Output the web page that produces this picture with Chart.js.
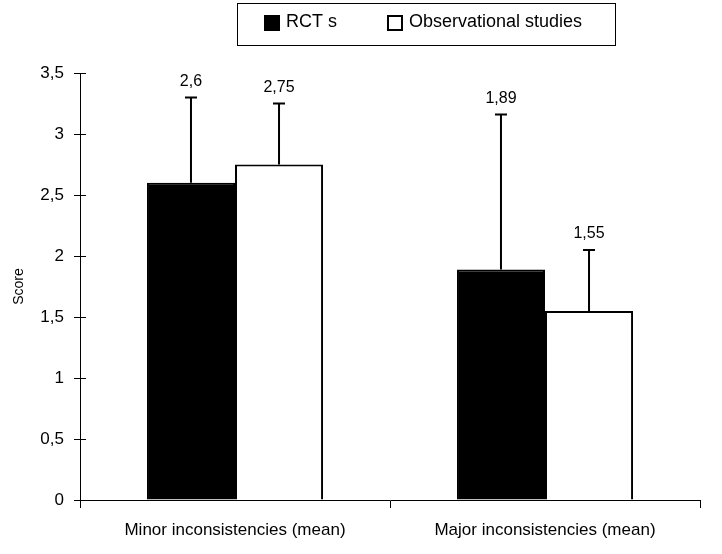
<html>
  <head>
    <script src="https://cdn.jsdelivr.net/npm/chart.js@4.4.1/dist/chart.umd.min.js"></script>
    <style>
      body { margin: 0; background: #fff; }
      #wrap { width: 722px; height: 554px; }
    </style>
  </head>
  <body>
    <div id="wrap">
      <canvas id="myChart"></canvas>
    </div>

    <script>
      const categories = ["Minor inconsistencies (mean)", "Major inconsistencies (mean)"];
      const seriesNames = ["RCT s", "Observational studies"];
      const rctMeans = [2.6, 1.89];
      const obsMeans = [2.75, 1.55];
      // upper error bar length
      const rctErr = [0.7, 1.27];
      const obsErr = [0.5, 0.5];
      const yTicks = [0, 0.5, 1, 1.5, 2, 2.5, 3, 3.5];

      const FONT = "'Liberation Sans Narrow', 'Liberation Sans', Arial, sans-serif";
      const fmt = (v) => String(v).replace(".", ",");

      // error bars + value labels above them
      const errorBars = {
        id: "errorBars",
        afterDatasetsDraw(chart) {
          const ctx = chart.ctx;
          const y = chart.scales.y;
          ctx.save();
          ctx.strokeStyle = "#000";
          ctx.lineWidth = 2;
          ctx.fillStyle = "#000";
          ctx.font = "16px " + FONT;
          ctx.textAlign = "center";
          ctx.textBaseline = "middle";
          chart.data.datasets.forEach((ds, i) => {
            chart.getDatasetMeta(i).data.forEach((bar, j) => {
              const top = y.getPixelForValue(ds.data[j] + ds.err[j]);
              ctx.beginPath();
              ctx.moveTo(bar.x, bar.y);
              ctx.lineTo(bar.x, top);
              ctx.moveTo(bar.x - 6, top);
              ctx.lineTo(bar.x + 6, top);
              ctx.stroke();
              ctx.fillText(fmt(ds.data[j]), bar.x, top - 16);
            });
          });
          ctx.restore();
        },
      };

      // y ticks crossing the axis, and the boxed legend
      const extras = {
        id: "extras",
        afterDraw(chart) {
          const ctx = chart.ctx;
          const y = chart.scales.y;
          const left = chart.chartArea.left;
          ctx.save();
          ctx.strokeStyle = "#000";
          ctx.lineWidth = 1;
          yTicks.forEach((t) => {
            const py = Math.round(y.getPixelForValue(t)) + 0.5;
            ctx.beginPath();
            ctx.moveTo(left, py);
            ctx.lineTo(left + 6, py);
            ctx.stroke();
          });

          // legend
          ctx.strokeRect(237.5, 3.5, 378, 42);
          ctx.font = "18px " + FONT;
          ctx.textBaseline = "middle";
          ctx.textAlign = "left";
          const items = [
            { x: 265, ds: chart.data.datasets[0] },
            { x: 388, ds: chart.data.datasets[1] },
          ];
          items.forEach((it) => {
            ctx.fillStyle = it.ds.backgroundColor;
            ctx.fillRect(it.x, 16, 14, 14);
            ctx.lineWidth = 2;
            ctx.strokeRect(it.x, 16, 14, 14);
            ctx.fillStyle = "#000";
            ctx.fillText(it.ds.label, it.x + 21, 22);
          });
          ctx.restore();
        },
      };

      const config = {
        type: "bar",
        data: {
          labels: categories,
          datasets: [
            {
              label: seriesNames[0],
              data: rctMeans,
              err: rctErr,
              backgroundColor: "#000",
              borderColor: "#000",
              borderWidth: 2,
            },
            {
              label: seriesNames[1],
              data: obsMeans,
              err: obsErr,
              backgroundColor: "#fff",
              borderColor: "#000",
              borderWidth: 2,
            },
          ],
        },
        options: {
          responsive: true,
          maintainAspectRatio: false,
          animation: false,
          datasets: {
            bar: {
              categoryPercentage: 0.568,
              barPercentage: 1,
            },
          },
          layout: {
            padding: { top: 73, right: 22, left: 0, bottom: 0 },
          },
          plugins: {
            legend: { display: false },
            tooltip: { enabled: false },
          },
          scales: {
            x: {
              grid: {
                display: true,
                offset: true,
                drawOnChartArea: false,
                tickLength: 8,
                color: "#000",
              },
              border: { color: "#000", width: 1 },
              ticks: {
                color: "#000",
                font: { family: FONT, size: 17 },
                padding: 12,
              },
              afterFit: (s) => {
                s.height = 54;
              },
            },
            y: {
              min: 0,
              max: 3.5,
              grid: {
                drawOnChartArea: false,
                tickLength: 6,
                color: "#000",
              },
              border: { color: "#000", width: 1 },
              ticks: {
                stepSize: 0.5,
                color: "#000",
                font: { family: FONT, size: 17 },
                padding: 10,
                callback: (v) => fmt(v),
              },
              title: {
                display: true,
                text: "Score",
                color: "#000",
                font: { family: FONT, size: 14 },
                padding: { top: 11 },
              },
              afterFit: (s) => {
                s.width = 80;
              },
            },
          },
        },
        plugins: [errorBars, extras],
      };

      const myChart = new Chart(document.getElementById("myChart"), config);
    </script>
  </body>
</html>
